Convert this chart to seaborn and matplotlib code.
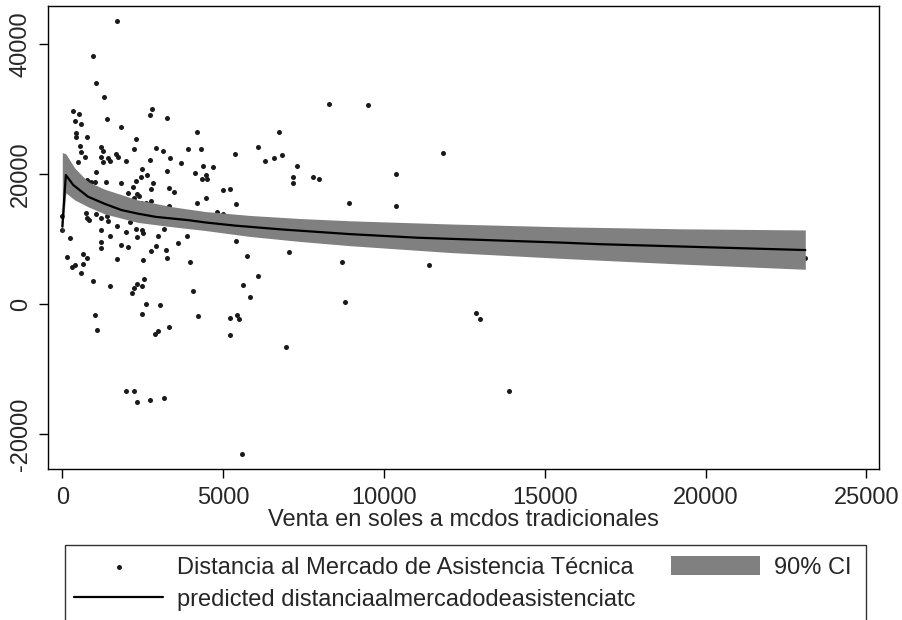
import matplotlib
matplotlib.use("Agg")
import matplotlib.pyplot as plt
import seaborn as sns
import pandas as pd
from matplotlib.patches import Rectangle

# Observed sales (soles) and distance to the technical-assistance market
sales = [
    1710, 945, 1040, 1300, 330, 510, 390, 590, 435, 435,
    770, 1380, 1825, 2800, 2735, 3255, 2280, 4180, 540, 1195,
    2230, 2915, 3120, 3900, 4310, 590, 1275, 1680, 1740, 695,
    1195, 1430, 3350, 2735, 1275, 500, 1485, 1980, 3690, 4385,
    1040, 2470, 2625, 2445, 4125, 770, 890, 1015, 1350, 1815,
    2280, 2810, 4335, 2200, 2035, 2315, 2240, 2750, 3310, 3475,
    2750, 2445, 2595, 3325, 4180, 0, 0, 725, 775, 830,
    1050, 1400, 1195, 1430, 1710, 2105, 1195, 1980, 2280, 2485,
    2520, 3170, 240, 1485, 2330, 2985, 3885, 1195, 1195, 1825,
    2035, 2905, 2750, 3225, 3605, 135, 655, 775, 1710, 2520,
    3270, 3970, 395, 310, 635, 580, 945, 1485, 2315, 2540,
    2470, 2230, 2160, 4075, 2595, 3030, 1005, 2485, 4230, 1070,
    3315, 2985, 2880, 1980, 2230, 2330, 2725, 3155, 8300, 6745,
    6085, 5370, 6295, 6590, 6820, 4695, 7290, 4460, 4510, 7180,
    7180, 7785, 7980, 4985, 5205, 4470, 5390, 8905, 4800, 5390,
    7055, 5735, 8685, 6095, 5610, 5835, 8780, 5205, 5440, 5505,
    5205, 6945, 5580, 9495, 11825, 10385, 10385, 11410, 12870, 12975,
    13890, 23100, 4985, 2370, 3245,
]
distance = [
    43600, 38150, 34050, 31800, 29700, 29300, 28100, 27750, 26350, 25650,
    25650, 28500, 27250, 29950, 29100, 28650, 25400, 26500, 24350, 24150,
    23900, 24050, 23600, 23850, 23850, 23350, 23600, 23100, 22650, 22550,
    22650, 22400, 22400, 22150, 21900, 21800, 22050, 22000, 21750, 21250,
    20250, 20750, 19850, 19600, 20200, 19100, 18700, 18800, 18700, 18550,
    18900, 18550, 19250, 17950, 17100, 16900, 16350, 17700, 17900, 17200,
    15850, 15600, 15500, 15100, 15500, 13550, 11400, 14050, 13300, 12900,
    13900, 13550, 13200, 12800, 12050, 12650, 11400, 11100, 11550, 11400,
    10950, 11550, 10200, 10500, 10250, 10500, 10450, 9600, 8550, 9050,
    8800, 8950, 8200, 8300, 9450, 7300, 7650, 7050, 6900, 6750,
    7100, 6500, 6000, 5650, 6100, 4800, 3600, 2750, 3100, 3800,
    2750, 2400, 1650, 2050, -50, -150, -1650, -1600, -1800, -4000,
    -3600, -4200, -4600, -13450, -13350, -15050, -14800, -14500, 30800, 26400,
    24200, 23050, 21950, 22400, 22900, 21100, 21200, 19800, 19200, 19600,
    18600, 19550, 19200, 17600, 17750, 16350, 15450, 15500, 14200, 9700,
    8000, 7400, 6400, 4350, 2950, 1050, 300, -2100, -1750, -2250,
    -4750, -6650, -23100, 30550, 23200, 20000, 15100, 6050, -1400, -2350,
    -13450, 7100, 13850, 16600, 20500,
]

# Fitted prediction
fit_x = [0, 110, 342, 803, 1323, 1843, 2350, 2911, 3917, 4437,
         5392, 6874, 8951, 11027, 13101, 15489, 16734, 23100]
fit_y = [11900, 19850, 18300, 16500, 15400, 14450, 13900, 13400, 12900, 12550,
         12050, 11450, 10750, 10200, 9850, 9450, 9200, 8300]

# 90% confidence band
ci_x = [0, 110, 389, 803, 1323, 2350, 3403, 4439, 5839, 7395, 8950,
        12061, 15483, 19216, 23100]
ci_hi = [23300, 23100, 20900, 18800, 17650, 16000, 14970, 14230, 13620, 13150, 12800,
         12310, 11880, 11570, 11390]
ci_lo = [10600, 17100, 16000, 14950, 13850, 12550, 11890, 11310, 10390, 9620, 8970,
         7920, 7030, 6150, 5340]

x_ticks = [0, 5000, 10000, 15000, 20000, 25000]
y_ticks = [-20000, 0, 20000, 40000]

x_label = "Venta en soles a mcdos tradicionales"
lbl_points = "Distancia al Mercado de Asistencia Técnica"
lbl_fit = "predicted distanciaalmercadodeasistenciatc"
lbl_ci = "90% CI"

sns.set_theme(style="white")
plt.rcParams["font.family"] = ["Liberation Sans", "DejaVu Sans"]
FS = 17

pts = pd.DataFrame({"sales": sales, "distance": distance})
fit = pd.DataFrame({"sales": fit_x, "pred": fit_y})

W, H = 903, 620
fig = plt.figure(figsize=(W / 100, H / 100), dpi=100)
fig.patch.set_facecolor("white")
L, R, T, B = 47.7, 879, 6, 469.3
ax = fig.add_axes([L / W, 1 - B / H, (R - L) / W, (B - T) / H])

sns.scatterplot(data=pts, x="sales", y="distance", ax=ax, s=13, color="#1a1a1a",
                linewidth=0, zorder=1, label=lbl_points, legend=False)
band = ax.fill_between(ci_x, ci_lo, ci_hi, color="#808080", linewidth=0, zorder=2,
                       label=lbl_ci)
sns.lineplot(data=fit, x="sales", y="pred", ax=ax, color="black", linewidth=1.6,
             zorder=3, label=lbl_fit, legend=False, sort=False)

ax.set_xlim(-454, 25391)
ax.set_ylim(-25431, 45846)
ax.set_xticks(x_ticks)
ax.set_yticks(y_ticks)
ax.set_xticklabels([str(v) for v in x_ticks], fontsize=FS)
ax.set_yticklabels([str(v) for v in y_ticks], fontsize=FS, rotation=90, va="center")
ax.tick_params(axis="x", direction="out", length=6.5, width=1, color="black", pad=6)
ax.tick_params(axis="y", direction="out", length=6.5, width=1, color="black", pad=5)
ax.tick_params(bottom=True, left=True)
ax.set_xlabel(x_label, fontsize=FS, labelpad=0)
ax.set_ylabel("")
for sp in ax.spines.values():
    sp.set_visible(True)
    sp.set_color("black")
    sp.set_linewidth(1.0)
ax.grid(False)

# Legend below the plot
handles = [ax.collections[0], ax.lines[0], band]
labels = [lbl_points, lbl_fit, lbl_ci]
fig.legend(handles, labels, loc="upper left",
           bbox_to_anchor=(74 / W, 1 - 556 / H), bbox_transform=fig.transFigure,
           ncol=2, frameon=False, borderpad=0, borderaxespad=0,
           handlelength=3.77, handletextpad=0.59, columnspacing=1.5,
           labelspacing=0.4, handleheight=0.85, fontsize=FS, scatterpoints=1)
fig.add_artist(Rectangle((65 / W, -0.1), (866 - 65) / W, (H - 545) / H + 0.1,
                         transform=fig.transFigure, fill=False,
                         edgecolor="#333333", linewidth=1.0))

fig.savefig("out.png", dpi=100, facecolor="white")
